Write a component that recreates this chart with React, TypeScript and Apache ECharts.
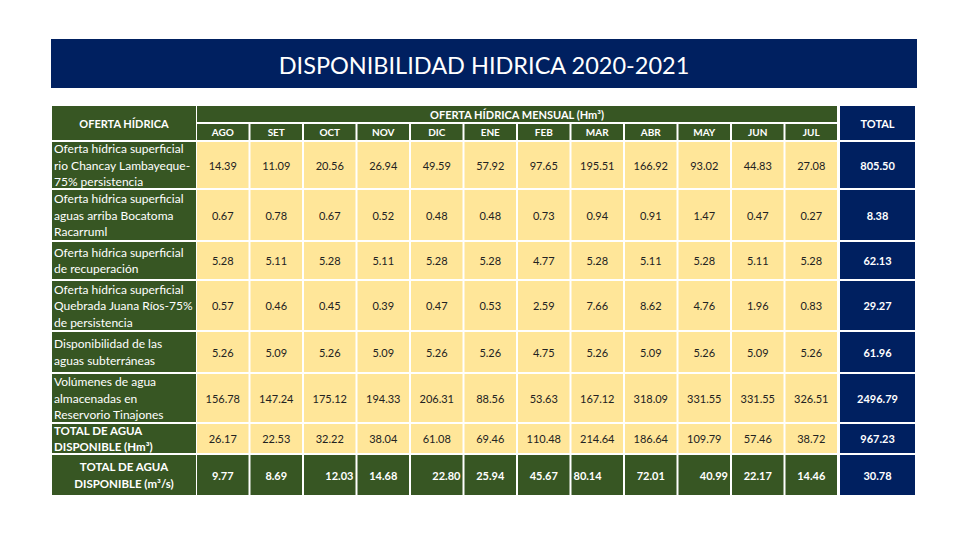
import React, { useEffect, useRef } from "react";
import * as echarts from "echarts";

// ---------- DATA ----------
const TITLE = "DISPONIBILIDAD HIDRICA 2020-2021";
const headerLabel = "OFERTA HÍDRICA";
const headerMensual = "OFERTA HÍDRICA MENSUAL (Hm³)";
const headerTotal = "TOTAL";
const months = ["AGO", "SET", "OCT", "NOV", "DIC", "ENE", "FEB", "MAR", "ABR", "MAY", "JUN", "JUL"];

const rowLabels = [
  ["Oferta hídrica superficial", "rio Chancay Lambayeque-", "75% persistencia"],
  ["Oferta hídrica superficial", "aguas arriba Bocatoma", "Racarruml"],
  ["Oferta hídrica superficial", "de recuperación"],
  ["Oferta hídrica superficial", "Quebrada Juana Ríos-75%", "de persistencia"],
  ["Disponibilidad de las", "aguas subterráneas"],
  ["Volúmenes de agua", "almacenadas en", "Reservorio Tinajones"],
  ["TOTAL DE AGUA", "DISPONIBLE (Hm³)"],
  ["TOTAL DE AGUA", "DISPONIBLE (m³/s)"],
];

const rioChancay = [14.39, 11.09, 20.56, 26.94, 49.59, 57.92, 97.65, 195.51, 166.92, 93.02, 44.83, 27.08];
const bocatoma = [0.67, 0.78, 0.67, 0.52, 0.48, 0.48, 0.73, 0.94, 0.91, 1.47, 0.47, 0.27];
const recuperacion = [5.28, 5.11, 5.28, 5.11, 5.28, 5.28, 4.77, 5.28, 5.11, 5.28, 5.11, 5.28];
const juanaRios = [0.57, 0.46, 0.45, 0.39, 0.47, 0.53, 2.59, 7.66, 8.62, 4.76, 1.96, 0.83];
const subterraneas = [5.26, 5.09, 5.26, 5.09, 5.26, 5.26, 4.75, 5.26, 5.09, 5.26, 5.09, 5.26];
const tinajones = [156.78, 147.24, 175.12, 194.33, 206.31, 88.56, 53.63, 167.12, 318.09, 331.55, 331.55, 326.51];
const totalHm3 = [26.17, 22.53, 32.22, 38.04, 61.08, 69.46, 110.48, 214.64, 186.64, 109.79, 57.46, 38.72];
const totalM3s = [9.77, 8.69, 12.03, 14.68, 22.8, 25.94, 45.67, 80.14, 72.01, 40.99, 22.17, 14.46];
const totals = [805.5, 8.38, 62.13, 29.27, 61.96, 2496.79, 967.23, 30.78];

const rowsData = [rioChancay, bocatoma, recuperacion, juanaRios, subterraneas, tinajones, totalHm3, totalM3s];

// ---------- LAYOUT / STYLE ----------
const GREEN = "#375623";
const YELLOW = "#FFE699";
const NAVY = "#002060";
const FONT = "Lato";

const GRID = { left: 52, top: 106, width: 863, height: 389 };
const labelCol: [number, number] = [0, 144];
const monthStart = 145;
const monthStep = 53.5;
const monthGap = 2;
const totalCol: [number, number] = [788, 863];
const headerTop: [number, number] = [0, 16];
const monthRow: [number, number] = [18, 34];
const headerFull: [number, number] = [0, 34];
const rowEdges: [number, number][] = [
  [36, 82], [84, 134], [136, 173], [175, 224], [226, 266], [268, 316], [318, 347], [349, 389],
];
const lastRowAlign = ["center", "center", "right", "center", "right", "center", "center", "left", "center", "right", "center", "center"];

type Cell = {
  x: [number, number];
  y: [number, number];
  fill: string;
  text: string;
  color: string;
  weight: string;
  size: number;
  align: string;
  lh?: number;
};

function monthX(i: number): [number, number] {
  const a = monthStart + i * monthStep;
  return [a, a + monthStep - monthGap];
}

function buildCells(): Cell[] {
  const cells: Cell[] = [];
  cells.push({ x: labelCol, y: headerFull, fill: GREEN, text: headerLabel, color: "#fff", weight: "bold", size: 11, align: "center" });
  cells.push({ x: [monthStart, monthX(11)[1]], y: headerTop, fill: GREEN, text: headerMensual, color: "#fff", weight: "bold", size: 11, align: "center" });
  months.forEach((m, i) => {
    cells.push({ x: monthX(i), y: monthRow, fill: GREEN, text: m, color: "#fff", weight: "bold", size: 10, align: "center" });
  });
  cells.push({ x: totalCol, y: headerFull, fill: NAVY, text: headerTotal, color: "#fff", weight: "bold", size: 11, align: "center" });

  rowsData.forEach((vals, r) => {
    const isLast = r === rowsData.length - 1;
    const isBoldLabel = r >= 6;
    cells.push({
      x: labelCol, y: rowEdges[r], fill: GREEN, text: rowLabels[r].join("\n"), color: "#fff",
      weight: isBoldLabel ? "bold" : "normal", size: isBoldLabel ? 11.5 : 12, align: isLast ? "center" : "left", lh: 16.5,
    });
    vals.forEach((v, i) => {
      cells.push({
        x: monthX(i), y: rowEdges[r], fill: isLast ? GREEN : YELLOW, text: v.toFixed(2),
        color: isLast ? "#fff" : "#222", weight: isLast ? "bold" : "normal", size: 11,
        align: isLast ? lastRowAlign[i] : "center",
      });
    });
    cells.push({ x: totalCol, y: rowEdges[r], fill: NAVY, text: totals[r].toFixed(2), color: "#fff", weight: "bold", size: 11, align: "center" });
  });
  return cells;
}

export default function App() {
  const ref = useRef<HTMLDivElement>(null);
  useEffect(() => {
    if (!ref.current) return;
    const chart = echarts.init(ref.current, undefined, { renderer: "svg" });
    const cells = buildCells();
    chart.setOption({
      animation: false,
      backgroundColor: "#ffffff",
      grid: { ...GRID },
      xAxis: { type: "value", min: 0, max: GRID.width, show: false },
      yAxis: { type: "value", min: 0, max: GRID.height, inverse: true, show: false },
      graphic: [
        { type: "rect", shape: { x: 51, y: 39, width: 866, height: 49 }, style: { fill: NAVY } },
        {
          type: "text", x: 484, y: 65,
          style: { text: TITLE, fill: "#fff", fontSize: 23.5, fontFamily: FONT, align: "center", verticalAlign: "middle" },
        },
      ],
      series: [
        {
          type: "custom",
          data: cells.map((_, i) => [i]),
          encode: { x: [], y: [] },
          renderItem: (params: any, api: any) => {
            const c = cells[params.dataIndex];
            const p0 = api.coord([c.x[0], c.y[0]]);
            const p1 = api.coord([c.x[1], c.y[1]]);
            const left = p0[0], top = p0[1], w = p1[0] - p0[0], h = p1[1] - p0[1];
            let tx = left + w / 2;
            if (c.align === "left") tx = left + 2;
            if (c.align === "right") tx = left + w - 2;
            return {
              type: "group",
              children: [
                { type: "rect", shape: { x: left, y: top, width: w, height: h }, style: { fill: c.fill } },
                {
                  type: "text",
                  x: tx,
                  y: top + h / 2,
                  style: {
                    text: c.text, fill: c.color, fontSize: c.size, fontFamily: FONT, fontWeight: c.weight,
                    align: c.align, verticalAlign: "middle", lineHeight: c.lh || c.size * 1.3,
                  },
                },
              ],
            };
          },
        },
      ],
    });
    return () => chart.dispose();
  }, []);
  return <div ref={ref} style={{ position: "absolute", left: 0, top: 0, width: 960, height: 540 }} />;
}
